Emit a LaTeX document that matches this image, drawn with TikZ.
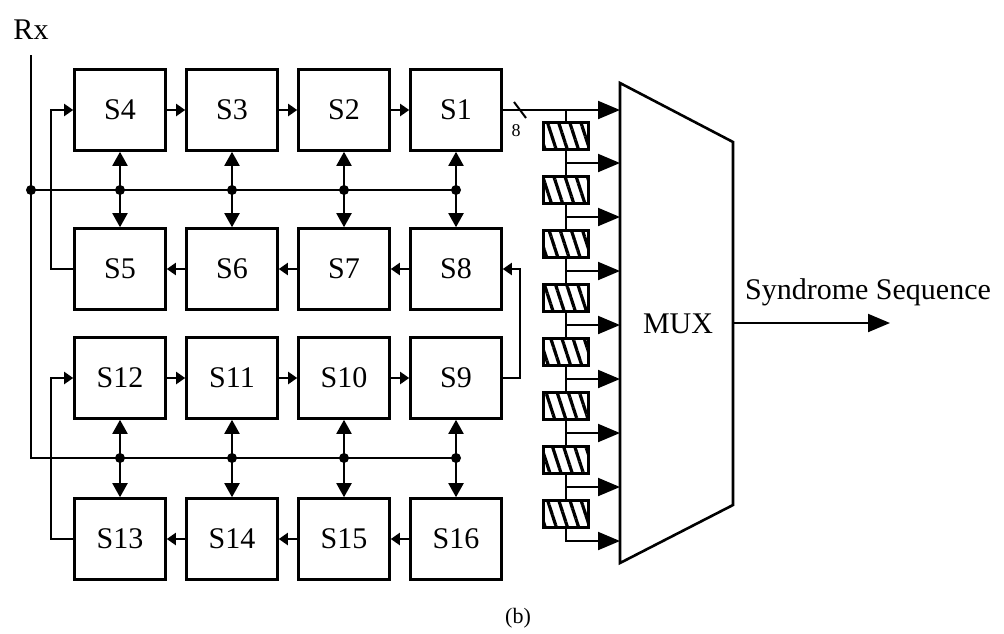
\documentclass[tikz,border=0pt]{standalone}
\usepackage{fontspec}
\setmainfont{Liberation Serif}
\usetikzlibrary{arrows.meta, positioning, patterns.meta}

\begin{document}
\begin{tikzpicture}[x=0.5pt, y=-0.5pt, >=Stealth,
    font=\fontsize{15}{18}\selectfont,
    cell/.style={draw, line width=1.3pt, minimum width=45.5pt, minimum height=40.5pt, inner sep=0pt},
    reg/.style={draw, line width=1.2pt, minimum width=22.5pt, minimum height=13.5pt, inner sep=0pt,
        preaction={fill=white}, pattern={Lines[angle=-72, distance=5.3pt, line width=1.6pt]}},
    wire/.style={line width=1pt},
    hop/.style={wire, -{Triangle[length=4.5pt, width=6pt]}},
    bidir/.style={wire, {Triangle[length=7pt, width=7.5pt]}-{Triangle[length=7pt, width=7.5pt]}},
    feed/.style={wire, -{Triangle[length=11pt, width=9pt]}},
    junc/.style={circle, fill, inner sep=0pt, minimum size=5pt}]

    \useasboundingbox (0,0) rectangle (1004,633);

    % the sixteen syndrome cells, row by row:
    \foreach \n [count=\c] in {4,3,2,1} \node[cell] (s\n) at (8+112*\c,110) {S\n};
    \foreach \n [count=\c] in {5,6,7,8} \node[cell] (s\n) at (8+112*\c,269) {S\n};
    \foreach \n [count=\c] in {12,11,10,9} \node[cell] (s\n) at (8+112*\c,378) {S\n};
    \foreach \n [count=\c] in {13,14,15,16} \node[cell] (s\n) at (8+112*\c,539) {S\n};

    % shifting between neighbours
    \foreach \a/\b in {s4/s3, s3/s2, s2/s1, s8/s7, s7/s6, s6/s5,
                       s12/s11, s11/s10, s10/s9, s16/s15, s15/s14, s14/s13}
        \draw[hop] (\a) -- (\b);

    % wrap-around paths
    \draw[hop] (s5.west) -- ++(-22,0) |- (s4.west);
    \draw[hop] (s13.west) -- ++(-22,0) |- (s12.west);
    \draw[hop] (s9.east) -- ++(17,0) |- (s8.east);

    % received bits and the two buses:
    \node (rx) at (31,30) {Rx};
    \coordinate (rxtop) at (31,55);
    \coordinate (bus1) at (31,190);
    \coordinate (bus2) at (31,458);
    \draw[wire] (rxtop) -- (bus2) -- (s16.north |- bus2);
    \draw[wire] (bus1) -- (s8.north |- bus1);
    \node[junc] at (bus1) {};

    \foreach \a/\b in {s4/s5, s3/s6, s2/s7, s1/s8} {
        \draw[bidir] (\a.south) -- (\b.north);
        \node[junc] at (\a.south |- bus1) {};
    }
    \foreach \a/\b in {s12/s13, s11/s14, s10/s15, s9/s16} {
        \draw[bidir] (\a.south) -- (\b.north);
        \node[junc] at (\a.south |- bus2) {};
    }

    % multiplexer
    \draw[line width=1.3pt] (620,83) -- (733,142) -- (733,505) -- (620,563) -- cycle;
    \node (mux) at (678,324) {MUX};
    \coordinate (muxout) at (733,323);
    \coordinate (seqend) at (890,323);
    \draw[feed] (muxout) -- (seqend);
    \node (seq) at (868,292) {Syndrome Sequence};

    % S1 output, 8 bits wide
    \coordinate (m0) at (620,110);
    \coordinate (tap) at (566,110);
    \draw[feed] (s1.east) -- (m0);
    \draw[wire] (514,102) -- (526,118);
    \node[font=\fontsize{9}{10}\selectfont] (width) at (516,131) {8};

    % delay registers feeding the mux
    \foreach \i in {1,...,8} {
        \node[reg] (r\i) at (566,82+54*\i) {};
        \coordinate (k\i) at (566,109+54*\i);
        \coordinate (m\i) at (620,109+54*\i);
        \draw[feed] (r\i.south) |- (m\i);
    }
    \draw[wire] (tap) -- (r1.north);
    \foreach \i [count=\j from 2] in {1,...,7}
        \draw[wire] (k\i) -- (r\j.north);

    \node[font=\fontsize{11}{12}\selectfont] (cap) at (518,618) {(b)};
%
\end{tikzpicture}
\end{document}
